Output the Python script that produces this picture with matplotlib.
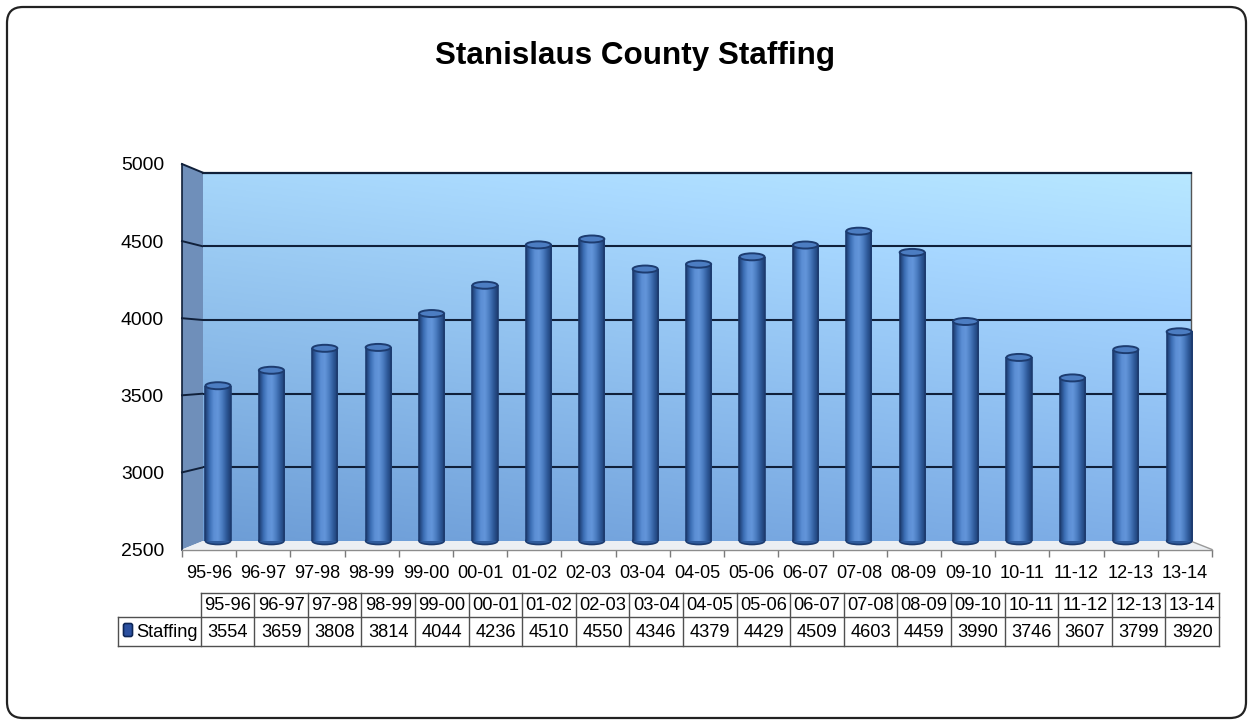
import numpy as np
import matplotlib
matplotlib.use("Agg")
import matplotlib.pyplot as plt
from matplotlib import font_manager
from matplotlib.colors import LinearSegmentedColormap, to_rgb
from matplotlib.patches import Ellipse, Polygon, FancyBboxPatch

# -----------------------------
# Data
# -----------------------------
seasons = ['95-96', '96-97', '97-98', '98-99', '99-00', '00-01', '01-02',
           '02-03', '03-04', '04-05', '05-06', '06-07', '07-08', '08-09',
           '09-10', '10-11', '11-12', '12-13', '13-14']
staffing = [3554, 3659, 3808, 3814, 4044, 4236, 4510, 4550, 4346, 4379,
            4429, 4509, 4603, 4459, 3990, 3746, 3607, 3799, 3920]
y_ticks = [2500, 3000, 3500, 4000, 4500, 5000]
series_name = 'Staffing'
chart_title = 'Stanislaus County Staffing'

# -----------------------------
# Layout (pixels)
# -----------------------------
W, H = 1251, 721
WALL_L, WALL_R, WALL_T, WALL_B = 203, 1190.5, 172.7, 541
FRONT_L, FRONT_R, FRONT_T, FRONT_B = 182, 1212, 164, 549.5
BAR_X0, BAR_STEP, BAR_W = 218, 53.4, 0.47
YMIN, YMAX = y_ticks[0], y_ticks[-1]
TAB_L, TAB_X0, TAB_R = 118, 200.7, 1219
TAB_T, TAB_M, TAB_B = 593, 616.5, 646

# narrow font if there is one, otherwise shrink the regular one a bit
names = {f.name for f in font_manager.fontManager.ttflist}
if 'Liberation Sans Narrow' in names:
    FONT, K, KT, KTAB = 'Liberation Sans Narrow', 1.0, 1.0, 1.0
else:
    FONT, K, KT, KTAB = 'Liberation Sans', 0.9, 0.87, 0.85
plt.rcParams['font.family'] = [FONT, 'DejaVu Sans']


def frac(l, t, r, b):
    return [l / W, 1 - b / H, (r - l) / W, (b - t) / H]


def front_y(v):
    return FRONT_B - (v - YMIN) / (YMAX - YMIN) * (FRONT_B - FRONT_T)


def back_y(v):
    return WALL_B - (v - YMIN) / (YMAX - YMIN) * (WALL_B - WALL_T)


fig = plt.figure(figsize=(W / 100, H / 100), dpi=100)

# background axes in pixel coordinates
bg = fig.add_axes([0, 0, 1, 1], zorder=0)
bg.set_xlim(0, W)
bg.set_ylim(H, 0)
bg.axis('off')

frame = FancyBboxPatch((7, 7), 1239, 711, boxstyle="round,pad=0,rounding_size=16",
                       facecolor='white', edgecolor='#222222', lw=1.6)
bg.add_patch(frame)

bg.text(635, 64, chart_title, ha='center', va='baseline',
        fontsize=26 * KT, fontweight='bold', color='black')

# left side wall
side = Polygon([(FRONT_L, FRONT_T), (WALL_L, WALL_T), (WALL_L, WALL_B), (FRONT_L, FRONT_B)],
               closed=True, facecolor='#6f8fba', edgecolor='none')
bg.add_patch(side)
for v in y_ticks[1:]:
    bg.plot([FRONT_L, WALL_L], [front_y(v), back_y(v)], color='#10203a', lw=1.4)

# floor
floor = Polygon([(FRONT_L, FRONT_B), (FRONT_R, FRONT_B), (WALL_R, WALL_B), (WALL_L, WALL_B)],
                closed=True, facecolor='#eceff3', edgecolor='none')
bg.add_patch(floor)
bg.plot([WALL_R, FRONT_R], [WALL_B, FRONT_B], color='#9a9a9a', lw=1)

# -----------------------------
# Back wall with gradient
# -----------------------------
wall = fig.add_axes(frac(WALL_L, WALL_T, WALL_R, WALL_B), zorder=1)
top_c = np.array(to_rgb('#a6d6fa'))
bot_c = np.array(to_rgb('#6d9dd6'))
right_boost = np.array(to_rgb('#ffffff')) * 0.07
yy = np.linspace(0, 1, 200)[:, None, None]
xx = np.linspace(0, 1, 200)[None, :, None]
grad = top_c * (1 - yy) + bot_c * yy + right_boost * xx
wall.imshow(np.clip(grad, 0, 1), extent=(0, 1, YMIN, YMAX), aspect='auto', origin='upper')
wall.set_xlim(0, 1)
wall.set_ylim(YMIN, YMAX)
for v in y_ticks[1:-1]:
    wall.axhline(v, color='#10203a', lw=1.5)
for s in ['left', 'bottom']:
    wall.spines[s].set_visible(False)
wall.spines['top'].set_color('#10203a')
wall.spines['top'].set_linewidth(1.6)
wall.spines['right'].set_color('#555555')
wall.spines['right'].set_linewidth(1)
wall.set_xticks([])
wall.set_yticks([])

# -----------------------------
# Front axes: tick labels and x axis
# -----------------------------
front = fig.add_axes(frac(FRONT_L, FRONT_T, FRONT_R, FRONT_B), zorder=2)
front.patch.set_visible(False)
front.set_xlim(-0.5, len(seasons) - 0.5)
front.set_ylim(YMIN, YMAX)
front.set_xticks(np.arange(len(seasons)))
front.set_xticklabels(seasons, fontsize=14.5 * K)
front.set_xticks(np.arange(len(seasons) + 1) - 0.5, minor=True)
front.tick_params(axis='x', which='major', length=0, pad=11)
front.tick_params(axis='x', which='minor', length=5, color='#7a7a7a', width=1)
front.set_yticks(y_ticks)
front.set_yticklabels([str(v) for v in y_ticks], fontsize=15.5 * K)
front.tick_params(axis='y', length=0, pad=13)
for s in ['top', 'right']:
    front.spines[s].set_visible(False)
front.spines['left'].set_color('#10203a')
front.spines['left'].set_linewidth(1.2)
front.spines['bottom'].set_color('#8c8c8c')
front.spines['bottom'].set_linewidth(1)

# -----------------------------
# Cylinder bars
# -----------------------------
n = len(seasons)
ax = fig.add_axes(frac(BAR_X0 - BAR_STEP / 2, WALL_T, BAR_X0 + (n - 0.5) * BAR_STEP, WALL_B),
                  zorder=3)
ax.patch.set_visible(False)
ax.axis('off')
bar_cmap = LinearSegmentedColormap.from_list(
    'cyl', ['#1d3c70', '#3a6cb2', '#5b8ed4', '#6395da', '#4a7cc0', '#2e5999', '#1d3c70'])
units_per_px = (YMAX - YMIN) / (WALL_B - WALL_T)
ell_h = 7 * units_per_px
xs = np.arange(n)
shade = np.linspace(0, 1, 60)[None, :]
for x, v in zip(xs, staffing):
    ax.add_patch(Ellipse((x, YMIN), BAR_W, ell_h, facecolor='#2f5b9c',
                         edgecolor='#1d3c70', lw=1.2, clip_on=False, zorder=1))
    ax.imshow(shade, cmap=bar_cmap, extent=(x - BAR_W / 2, x + BAR_W / 2, YMIN, v),
              aspect='auto', zorder=2, clip_on=False)
    ax.vlines([x - BAR_W / 2, x + BAR_W / 2], YMIN, v, color='#1d3c70', lw=1.2, zorder=3)
    ax.add_patch(Ellipse((x, v), BAR_W, ell_h, facecolor='#4c7dc2',
                         edgecolor='#1d3c70', lw=1.4, clip_on=False, zorder=4))
ax.set_xlim(-0.5, n - 0.5)
ax.set_ylim(YMIN, YMAX)

# -----------------------------
# Data table
# -----------------------------
col_w = (TAB_R - TAB_X0) / n
line_c = '#505050'
bg.plot([TAB_X0, TAB_R], [TAB_T, TAB_T], color=line_c, lw=1)
bg.plot([TAB_L, TAB_R], [TAB_M, TAB_M], color=line_c, lw=1)
bg.plot([TAB_L, TAB_R], [TAB_B, TAB_B], color=line_c, lw=1)
bg.plot([TAB_L, TAB_L], [TAB_M, TAB_B], color=line_c, lw=1)
for k in range(n + 1):
    xk = TAB_X0 + k * col_w
    bg.plot([xk, xk], [TAB_T, TAB_B], color=line_c, lw=1)
for k, (lab, val) in enumerate(zip(seasons, staffing)):
    xc = TAB_X0 + (k + 0.5) * col_w
    bg.text(xc, 610, lab, ha='center', va='baseline', fontsize=15.5 * KTAB)
    bg.text(xc, 637, str(val), ha='center', va='baseline', fontsize=15.5 * KTAB)

key = FancyBboxPatch((123.5, 623.5), 9, 13, boxstyle="round,pad=0,rounding_size=2",
                     facecolor='#2b50a0', edgecolor='#0e2657', lw=1.2)
bg.add_patch(key)
bg.text(136, 637, series_name, ha='left', va='baseline', fontsize=15.5 * KTAB)

fig.savefig('out.png', dpi=100)
